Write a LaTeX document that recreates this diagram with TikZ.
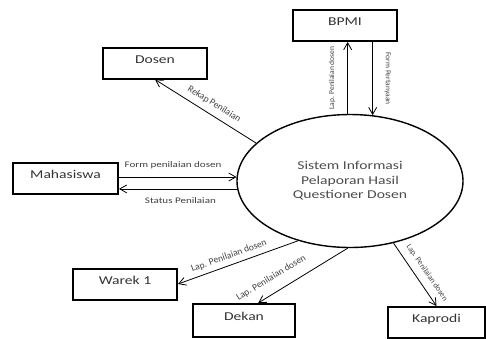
\documentclass[tikz,border=0pt]{standalone}
\usepackage{fontspec}
\setmainfont{Carlito}[FakeStretch=1.3]
\newfontfamily\plainfont{Carlito}
\usepackage{tikz}
\usepackage{xcolor}
\usetikzlibrary{arrows.meta,shapes.geometric}
\tikzset{
    entity-box/.style = {draw, line width=2pt, rectangle, minimum width=104pt, minimum height=31pt, inner sep=0pt, text height=9pt, text depth=9pt, font=\fontsize{12}{14}\selectfont, text=black!80},
    process-ellipse/.style = {draw, line width=1.4pt, ellipse, minimum width=226pt, minimum height=133pt, inner sep=0pt, align=center, font=\fontsize{12}{14.5}\selectfont, text=black!70},
    flow/.style = {line width=0.8pt, -{Straight Barb[length=7pt,width=8pt]}},
    flow-label/.style = {font=\fontsize{8.5}{10}\selectfont, text=black!75},
    slope-label/.style = {font=\plainfont\fontsize{9.5}{11}\selectfont, text=black!75},
    up-label/.style = {font=\plainfont\fontsize{7.5}{9}\selectfont, text=black!75},
}

\begin{document}
\begin{tikzpicture}[x=1pt, y=-1pt]
\useasboundingbox (0,0) rectangle (486,338);
\node [process-ellipse] (sys) at (350,181) {Sistem Informasi\\Pelaporan Hasil\\Questioner Dosen};
\node [entity-box] (bpmi) at (345,25.5) {BPMI};
\node [entity-box] (dosen) at (155,63) {Dosen};
\node [entity-box, minimum width=105pt] (mhs) at (65.5,178.5) {Mahasiswa};
\node [entity-box] (warek) at (125,284) {Warek 1};
\node [entity-box, minimum width=102pt, minimum height=33pt] (dekan) at (244,320.5) {Dekan};
\node [entity-box, minimum width=97pt] (kaprodi) at (436.5,322.5) {Kaprodi};

\draw [flow] (sys.92.6) -- node [up-label, midway, rotate=90, anchor=south, inner sep=12pt] {Lap. Penilaian dosen} (sys.92.6 |- bpmi.south);
\draw [flow] (sys.71.5 |- bpmi.south) -- node [up-label, midway, rotate=-90, anchor=south, inner sep=11.5pt] {Form Pertanyaan} (sys.71.5);
\draw [flow] (sys.158.6) -- node [slope-label, pos=0.47, sloped, anchor=south, inner sep=6pt] {Rekap Penilaian} (dosen.south);
\draw [flow] (mhs.east |- sys.178) -- node [flow-label, pos=0.46, anchor=south, inner sep=8pt] {Form penilaian dosen} (sys.178);
\draw [flow] (sys.184.6) -- node [flow-label, pos=0.48, anchor=north, inner sep=8pt] {Status Penilaian} (mhs.east |- sys.184.6);
\draw [flow] (sys.229.3) -- node [slope-label, pos=0.55, sloped, anchor=south, inner sep=4.5pt] {Lap. Penilaian dosen} (warek.east);
\draw [flow] (sys.268) -- node [slope-label, pos=0.77, sloped, anchor=south, inner sep=10pt] {Lap. Penilaian dosen} (dekan.51);
\draw [flow] (sys.305) -- node [slope-label, font=\plainfont\fontsize{8}{9}\selectfont, pos=0.57, sloped, anchor=south, inner sep=7pt] {Lap. Penilaian dosen} (kaprodi.north);
\end{tikzpicture}
\end{document}
